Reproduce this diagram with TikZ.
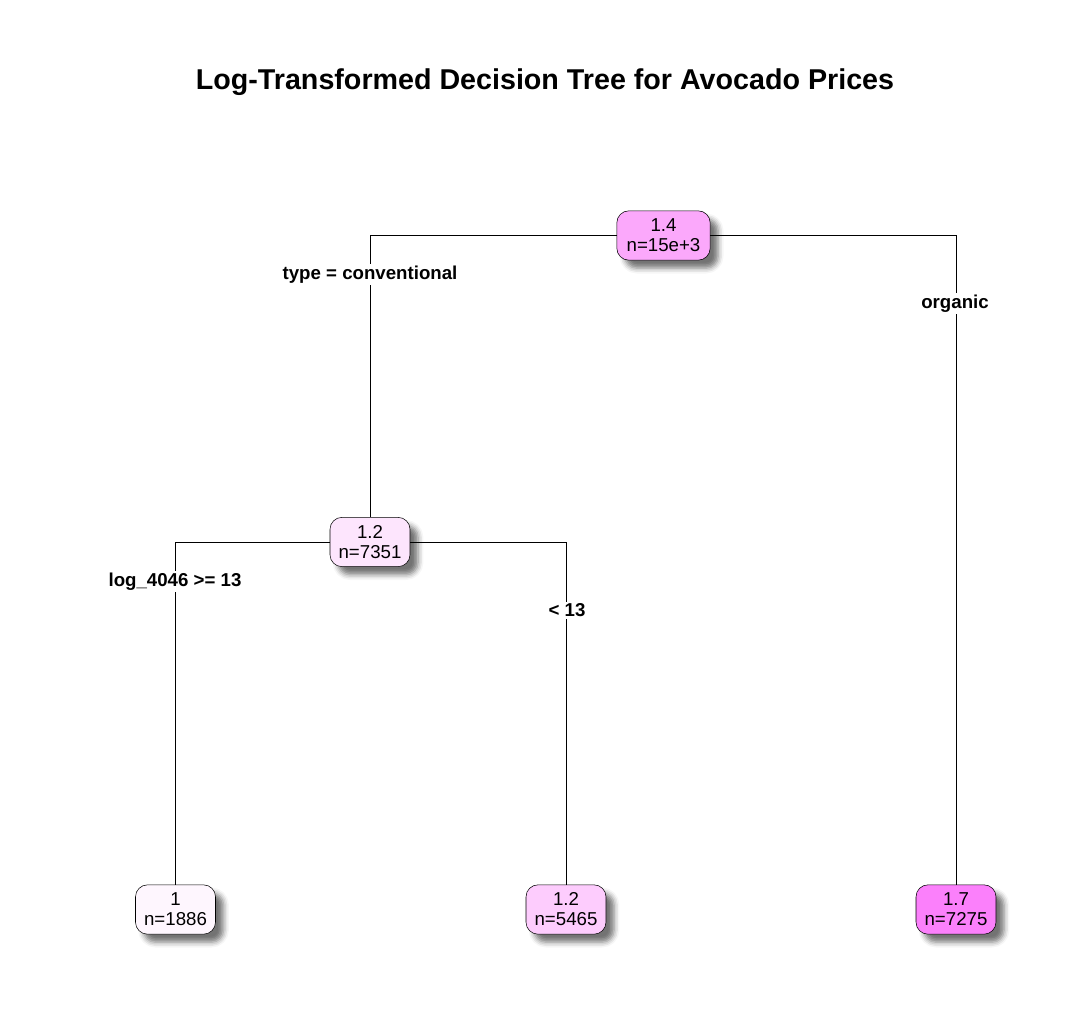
\documentclass[tikz,border=0pt]{standalone}
\usepackage{fontspec}
\setmainfont{Liberation Sans}
\usetikzlibrary{shadows.blur}
\definecolor{c14}{HTML}{FBA8FB}
\definecolor{c12}{HTML}{FDE5FD}
\definecolor{c10}{HTML}{FEF6FE}
\definecolor{c12b}{HTML}{FDCCFD}
\definecolor{c17}{HTML}{FB80FB}
\begin{document}
\begin{tikzpicture}[x = 0.75pt, y = -0.75pt,
	tnode/.style = {draw, rounded corners = 9pt, minimum width = 60pt, minimum height = 37pt,
		align = center, font = \fontsize{14}{15}\selectfont, inner sep = 2pt,
		blur shadow = {shadow xshift = 6pt, shadow yshift = -6pt, shadow blur radius = 4pt, shadow opacity = 55}},
	split/.style = {fill = white, inner sep = 1.5pt, font = \fontsize{14}{16}\selectfont\bfseries}]
	\useasboundingbox (0, 0) rectangle (1092, 1014);
	\node (title) at (545, 82) {\fontsize{21.5}{26}\selectfont\bfseries Log-Transformed Decision Tree for Avocado Prices};
	% tree nodes
	\node[tnode, fill = c14, minimum width = 70pt] (root) at (663.5, 235.5) {1.4\\n=15e+3};
	\node[tnode, fill = c12] (n7351) at (370, 542) {1.2\\n=7351};
	\node[tnode, fill = c10] (l1886) at (175.5, 909.5) {1\\n=1886};
	\node[tnode, fill = c12b] (l5465) at (566, 909.5) {1.2\\n=5465};
	\node[tnode, fill = c17] (l7275) at (956, 909.5) {1.7\\n=7275};
	% connectors
	\draw (root.west) -- (root.west -| n7351.north) -- (n7351.north);
	\draw (root.east) -- (root.east -| l7275.north) -- (l7275.north);
	\draw (n7351.west) -- (n7351.west -| l1886.north) -- (l1886.north);
	\draw (n7351.east) -- (n7351.east -| l5465.north) -- (l5465.north);
	% split labels
	\node[split] (sconv) at (370, 274.5) {type = conventional};
	\node[split] (sorg) at (955, 303.5) {organic};
	\node[split] (sge) at (175, 581.5) {log\_4046 >= 13};
	\node[split] (slt) at (567, 610.5) {< 13};
\end{tikzpicture}
\end{document}
